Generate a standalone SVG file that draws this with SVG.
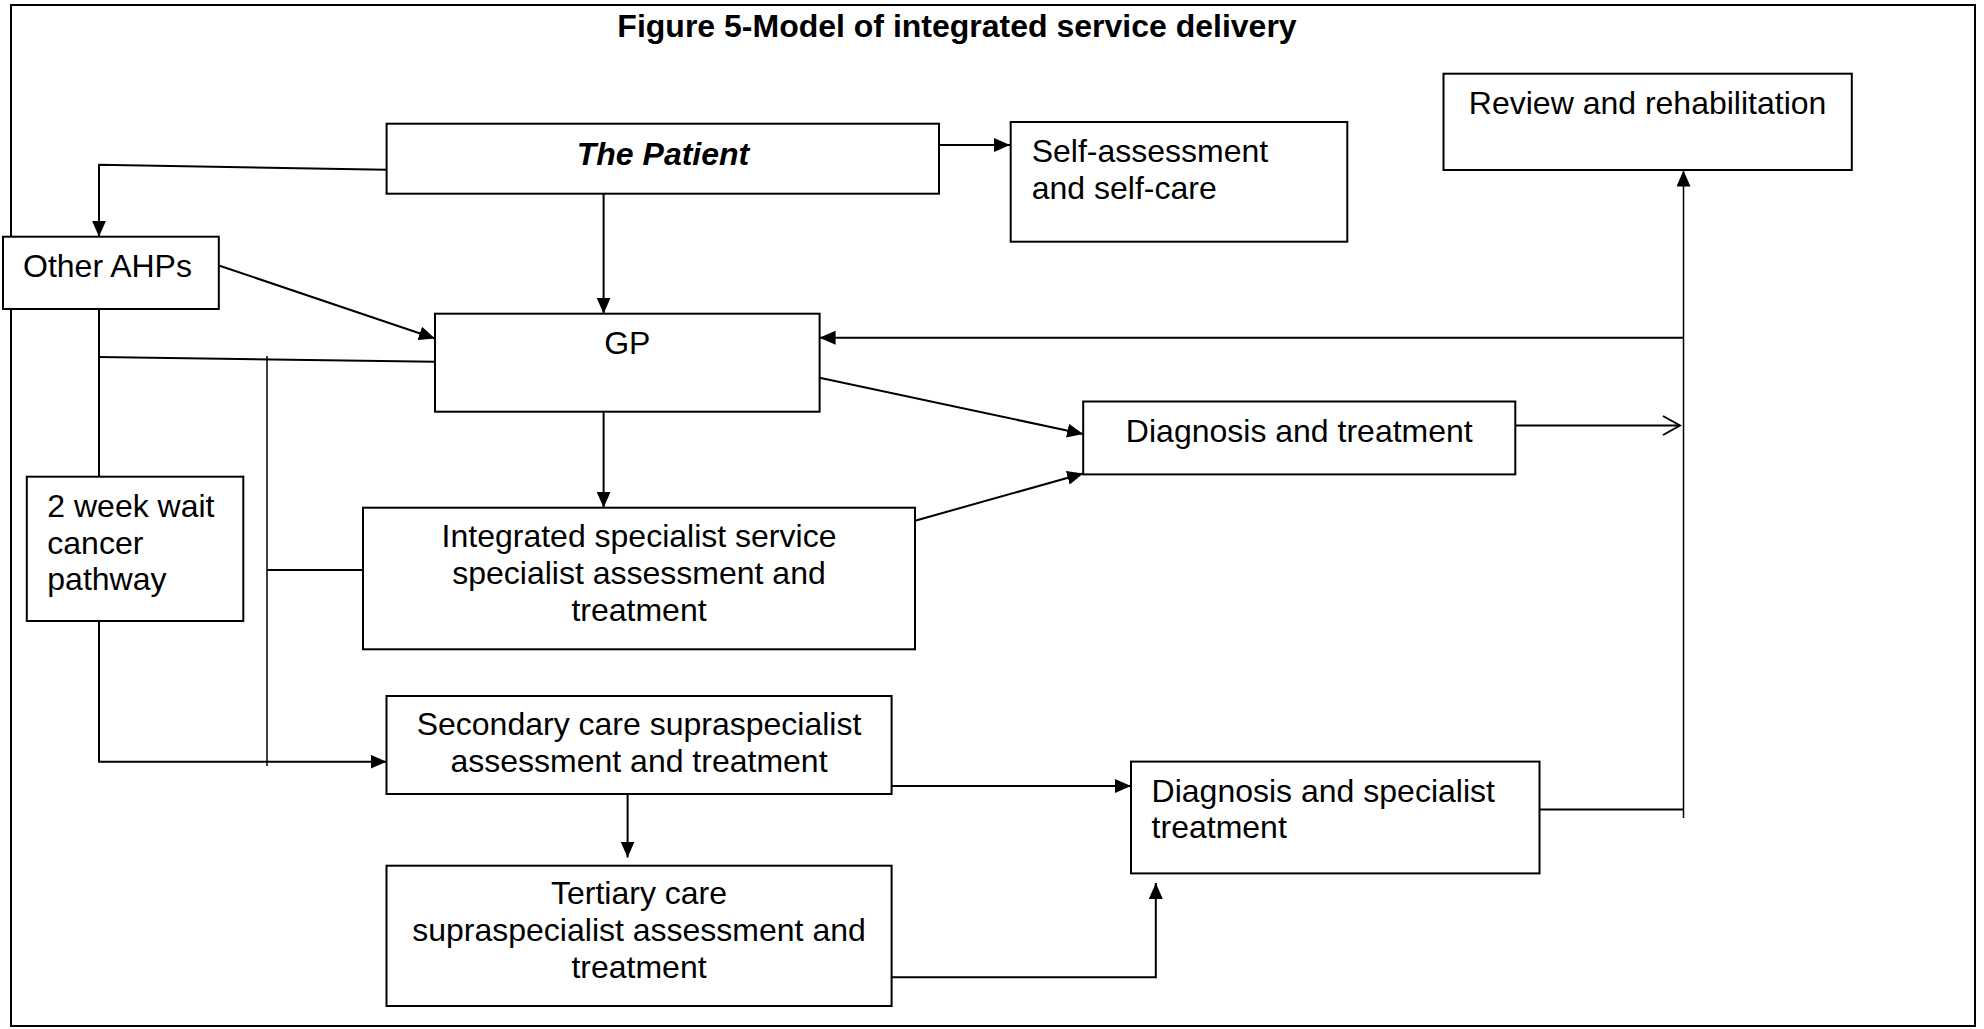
<svg xmlns="http://www.w3.org/2000/svg" width="1984" height="1029" viewBox="0 0 1984 1029">
<style>
  .box { fill: #fff; stroke: #000; stroke-width: 2; }
  .t { font-family: "Liberation Sans", Arial, sans-serif; font-size: 32px; fill: #000; }
  .c { text-anchor: middle; }
  .ln { fill: none; stroke: #000; stroke-width: 2; }
  .thin { fill: none; stroke: #000; stroke-width: 1.5; }
</style>
<defs>
  <marker id="ah" markerUnits="userSpaceOnUse" markerWidth="16" markerHeight="14" refX="16" refY="7" orient="auto">
    <path d="M0,0 L16,7 L0,14 z" fill="#000"/>
  </marker>
  <marker id="oh" markerUnits="userSpaceOnUse" markerWidth="20" markerHeight="22" refX="18" refY="11" orient="auto">
    <path d="M1,1.5 L18,11 L1,20.5" fill="none" stroke="#000" stroke-width="2"/>
  </marker>
</defs>
<rect x="11" y="5" width="1964" height="1021" fill="#fff" stroke="#000" stroke-width="2"/>
<text class="t c" x="957" y="37" font-weight="bold">Figure 5-Model of integrated service delivery</text>

<g id="connectors">
  <polyline class="ln" points="386.6,169.7 99,164.7 99,236.7" marker-end="url(#ah)"/>
  <line class="ln" x1="939" y1="145" x2="1010" y2="145" marker-end="url(#ah)"/>
  <line class="ln" x1="603.6" y1="194" x2="603.6" y2="313.7" marker-end="url(#ah)"/>
  <line class="ln" x1="219.6" y1="265.7" x2="435" y2="338.5" marker-end="url(#ah)"/>
  <polyline class="ln" points="435,361.7 99,357"/>
  <line class="ln" x1="99" y1="309" x2="99" y2="476.7"/>
  <line class="thin" x1="267" y1="356" x2="267" y2="766"/>
  <line class="ln" x1="267" y1="570" x2="363" y2="570"/>
  <polyline class="ln" points="99,621 99,761.7 386.5,761.7" marker-end="url(#ah)"/>
  <line class="ln" x1="603.6" y1="411.7" x2="603.6" y2="507.7" marker-end="url(#ah)"/>
  <line class="ln" x1="819.6" y1="377.7" x2="1083.2" y2="434" marker-end="url(#ah)"/>
  <line class="ln" x1="915" y1="520.7" x2="1083.2" y2="473.5" marker-end="url(#ah)"/>
  <line class="ln" x1="1515.3" y1="425.5" x2="1680" y2="425.5" marker-end="url(#oh)"/>
  <line class="thin" x1="1683.5" y1="818" x2="1683.5" y2="170.5" marker-end="url(#ah)"/>
  <line class="ln" x1="1683.5" y1="337.7" x2="819.6" y2="337.7" marker-end="url(#ah)"/>
  <line class="ln" x1="1539.5" y1="809.6" x2="1683.5" y2="809.6"/>
  <line class="ln" x1="891.6" y1="786" x2="1131" y2="786" marker-end="url(#ah)"/>
  <line class="ln" x1="627.6" y1="794" x2="627.6" y2="857.5" marker-end="url(#ah)"/>
  <polyline class="ln" points="891.6,977.3 1155.8,977.3 1155.8,883" marker-end="url(#ah)"/>
</g>

<g id="patient">
  <rect class="box" x="386.6" y="123.7" width="552.4" height="70"/>
  <text class="t c" x="663" y="165" font-weight="bold" font-style="italic">The Patient</text>
</g>
<g id="self-assessment">
  <rect class="box" x="1010.7" y="122" width="336.6" height="119.7"/>
  <text class="t" x="1031.7" y="162">Self-assessment</text>
  <text class="t" x="1031.7" y="198.5">and self-care</text>
</g>
<g id="review">
  <rect class="box" x="1443.5" y="73.7" width="408.3" height="96.3"/>
  <text class="t c" x="1647.6" y="114">Review and rehabilitation</text>
</g>
<g id="other-ahps">
  <rect class="box" x="3" y="236.7" width="215.8" height="72.3"/>
  <text class="t" x="23" y="277">Other AHPs</text>
</g>
<g id="gp">
  <rect class="box" x="435" y="313.7" width="384.6" height="98"/>
  <text class="t c" x="627.3" y="354">GP</text>
</g>
<g id="diagnosis-treatment">
  <rect class="box" x="1083.2" y="401.5" width="432.1" height="72.9"/>
  <text class="t c" x="1299.3" y="442">Diagnosis and treatment</text>
</g>
<g id="two-week-wait">
  <rect class="box" x="26.8" y="476.7" width="216.5" height="144.3"/>
  <text class="t" x="47.3" y="517">2 week wait</text>
  <text class="t" x="47.3" y="553.5">cancer</text>
  <text class="t" x="47.3" y="590">pathway</text>
</g>
<g id="integrated-specialist">
  <rect class="box" x="363" y="507.7" width="552" height="141.6"/>
  <text class="t c" x="639" y="547">Integrated specialist service</text>
  <text class="t c" x="639" y="584">specialist assessment and</text>
  <text class="t c" x="639" y="621">treatment</text>
</g>
<g id="secondary-care">
  <rect class="box" x="386.5" y="696" width="505.1" height="98"/>
  <text class="t c" x="639" y="735">Secondary care supraspecialist</text>
  <text class="t c" x="639" y="772">assessment and treatment</text>
</g>
<g id="tertiary-care">
  <rect class="box" x="386.5" y="865.7" width="505.1" height="140.3"/>
  <text class="t c" x="639" y="904">Tertiary care</text>
  <text class="t c" x="639" y="941">supraspecialist assessment and</text>
  <text class="t c" x="639" y="978">treatment</text>
</g>
<g id="diagnosis-specialist">
  <rect class="box" x="1131" y="761.6" width="408.5" height="111.8"/>
  <text class="t" x="1151.6" y="801.5">Diagnosis and specialist</text>
  <text class="t" x="1151.6" y="838">treatment</text>
</g>
</svg>
